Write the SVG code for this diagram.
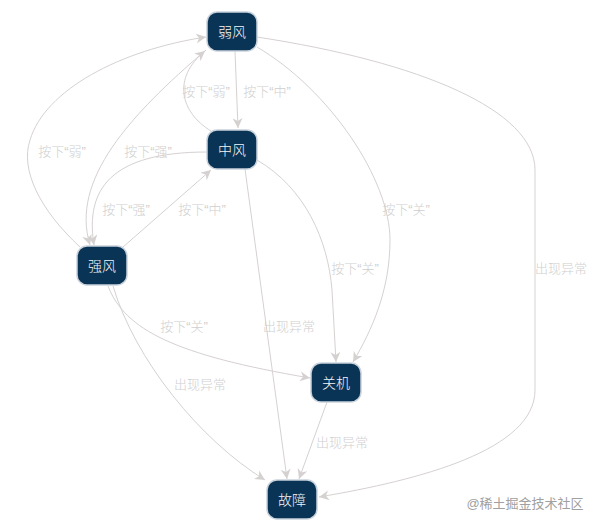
<svg xmlns="http://www.w3.org/2000/svg" width="595" height="526" viewBox="0 0 595 526">
<style>
.node rect{fill:#0a3456;stroke:#c9d2db;stroke-width:1.5}
.node text{fill:#f4f6f8;font-family:"Liberation Sans","Noto Sans CJK SC",sans-serif;font-size:14px;font-weight:300;text-anchor:middle;dominant-baseline:central}
.edge{fill:none;stroke:#d6d1d1;stroke-width:1;marker-end:url(#arr)}
.lbl{fill:#cfcfcf;font-family:"Liberation Sans","Noto Sans CJK SC",sans-serif;font-size:13px;font-weight:300;text-anchor:middle;dominant-baseline:central}
.wm{fill:#a0a0a0;font-family:"Liberation Sans","Noto Sans CJK SC",sans-serif;font-size:13px;text-anchor:middle;dominant-baseline:central}
</style>
<defs>
<marker id="arr" viewBox="0 0 10 10" refX="10" refY="5" markerWidth="10" markerHeight="10" markerUnits="userSpaceOnUse" orient="auto">
<path d="M0,0 L10,5 L0,10 L3,5 z" fill="#d6d1d1"/>
</marker>
</defs>
<rect width="595" height="526" fill="#ffffff"/>
<g id="connectors">
<path class="edge" d="M235,51 L238,128"/>
<path class="edge" d="M211,131 C180,112 172,78 205,51"/>
<path class="edge" d="M80,247 C40,210 20,170 30,140 C45,90 120,50 206,37"/>
<path class="edge" d="M206,50 C130,115 70,180 90,245"/>
<path class="edge" d="M207,152 C110,152 85,190 94,245"/>
<path class="edge" d="M123,247 L211,170"/>
<path class="edge" d="M257,47 C330,90 390,180 390,240 C390,290 372,330 353,362"/>
<path class="edge" d="M257,160 C305,188 328,240 332,290 L336,362"/>
<path class="edge" d="M108,286 C125,330 175,355 310,378"/>
<path class="edge" d="M113,286 C135,360 200,440 265,480"/>
<path class="edge" d="M245,169 L287,479"/>
<path class="edge" d="M327,402 L299,479"/>
<path class="edge" d="M257,37 C420,62 535,110 535,170 L535,390 C535,450 420,480 319,497"/>
</g>
<g id="labels">
<text class="lbl" x="206" y="91">按下“弱”</text>
<text class="lbl" x="267" y="91">按下“中”</text>
<text class="lbl" x="62" y="151">按下“弱”</text>
<text class="lbl" x="148" y="151">按下“强”</text>
<text class="lbl" x="126" y="209">按下“强”</text>
<text class="lbl" x="202" y="209">按下“中”</text>
<text class="lbl" x="406" y="209">按下“关”</text>
<text class="lbl" x="355" y="268">按下“关”</text>
<text class="lbl" x="184" y="326">按下“关”</text>
<text class="lbl" x="200" y="384">出现异常</text>
<text class="lbl" x="289" y="326">出现异常</text>
<text class="lbl" x="342" y="442">出现异常</text>
<text class="lbl" x="561" y="268">出现异常</text>
</g>
<g id="node-ruofeng" class="node"><rect x="207" y="12" width="50" height="39" rx="10"/><text x="232" y="32">弱风</text></g>
<g id="node-zhongfeng" class="node"><rect x="207" y="130" width="50" height="39" rx="10"/><text x="232" y="150">中风</text></g>
<g id="node-qiangfeng" class="node"><rect x="77" y="246" width="50" height="39" rx="10"/><text x="102" y="266">强风</text></g>
<g id="node-guanji" class="node"><rect x="311" y="363" width="50" height="39" rx="10"/><text x="336" y="383">关机</text></g>
<g id="node-guzhang" class="node"><rect x="267" y="480" width="50" height="39" rx="10"/><text x="292" y="500">故障</text></g>
<text class="wm" x="525" y="503">@稀土掘金技术社区</text>
</svg>
